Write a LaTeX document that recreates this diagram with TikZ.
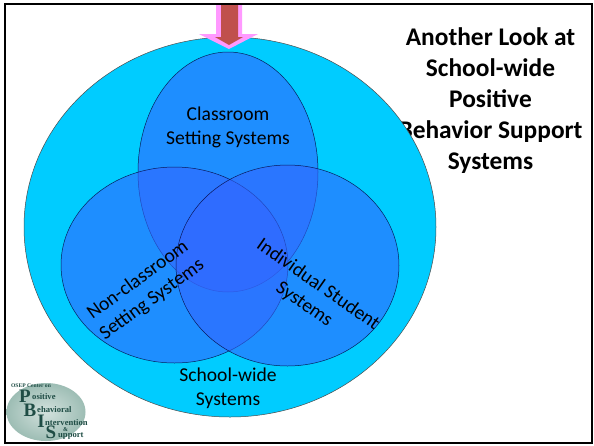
\documentclass[tikz,border=0pt]{standalone}
\usepackage{fontspec}
\setmainfont{Carlito}
\newfontfamily\logofont{Liberation Serif}
\definecolor{outerc}{HTML}{00CCFF}
\definecolor{setc}{HTML}{3366FF}
\definecolor{pinkc}{HTML}{FF99FF}
\definecolor{brownc}{HTML}{C0504D}
\definecolor{logoc}{HTML}{9DBDB4}
\definecolor{logod}{HTML}{1F4D45}
\tikzset{
 setell/.style={fill=setc,fill opacity=.6,draw=black!80!blue,draw opacity=.8,line width=.5pt},
 lab/.style={font=\fontsize{19.6}{24}\selectfont,align=center,text=black,inner sep=0pt},
 title/.style={font=\fontsize{25.4}{31}\selectfont\bfseries,align=center,text=black,inner sep=0pt},
 biglet/.style={font=\logofont\bfseries\fontsize{19}{19}\selectfont,text=logod,inner sep=0pt},
 smalllet/.style={font=\logofont\bfseries\fontsize{8.6}{9}\selectfont,text=logod,inner sep=0pt,anchor=west}
}
\begin{document}
\begin{tikzpicture}[x=1pt,y=-1pt]
\useasboundingbox (0,0) rectangle (594,445);
\fill[white] (0,0) rectangle (594,445);
% title lies under the circle
\node[title] (ttl) at (490.5,100.5) {Another Look at\\School-wide\\Positive\\Behavior Support\\Systems};
% outer circle
\draw[fill=outerc,draw=black!70,line width=.5pt] (230,227) ellipse [x radius=206,y radius=190];
% sets
\draw[setell] (228,172) ellipse [x radius=90,y radius=120];
\draw[setell] (174.5,265) ellipse [x radius=113.5,y radius=98];
\draw[setell] (287.5,265.5) ellipse [x radius=111.5,y radius=100.5];
% arrow
\fill[pinkc] (216,5) -- (242,5) -- (242,34) -- (258,34) -- (229,49) -- (199,34) -- (216,34) -- cycle;
\fill[brownc] (221,5) -- (238,5) -- (238,37) -- (243,37) -- (229,45) -- (215,37) -- (221,37) -- cycle;
% labels
\node[lab] (classroom) at (228,127) {Classroom\\Setting Systems};
\node[lab,rotate=36] (nonclass) at (145,290) {Non-classroom\\Setting Systems};
\node[lab,rotate=-35] (indiv) at (311,294.5) {Individual Student\\Systems};
\node[lab] (school) at (228,388.5) {School-wide\\Systems};
% logo
\shade[inner color=logoc!45!white,outer color=logoc] (46,412) ellipse [x radius=39.5,y radius=29];
\node[font=\logofont\bfseries\fontsize{5.6}{6}\selectfont,text=logod,inner sep=0pt] (lt) at (31,386) {OSEP Center on};
\node[biglet] (lp) at (25,396) {P};
\node[biglet] (lb) at (30,410) {B};
\node[biglet] (li) at (41,421) {I};
\node[biglet] (ls) at (51,432) {S};
\node[smalllet] at (32,397) {ositive};
\node[smalllet] at (37,410) {ehavioral};
\node[smalllet] at (45,423) {ntervention};
\node[smalllet,font=\logofont\bfseries\fontsize{6}{6}\selectfont] at (63,430) {\&};
\node[smalllet] at (58,436) {upport};
% frame
\draw[black,line width=1.8pt] (5,4) -- (592,4) -- (592,443) -- (5,443) -- cycle;
\end{tikzpicture}
\end{document}
